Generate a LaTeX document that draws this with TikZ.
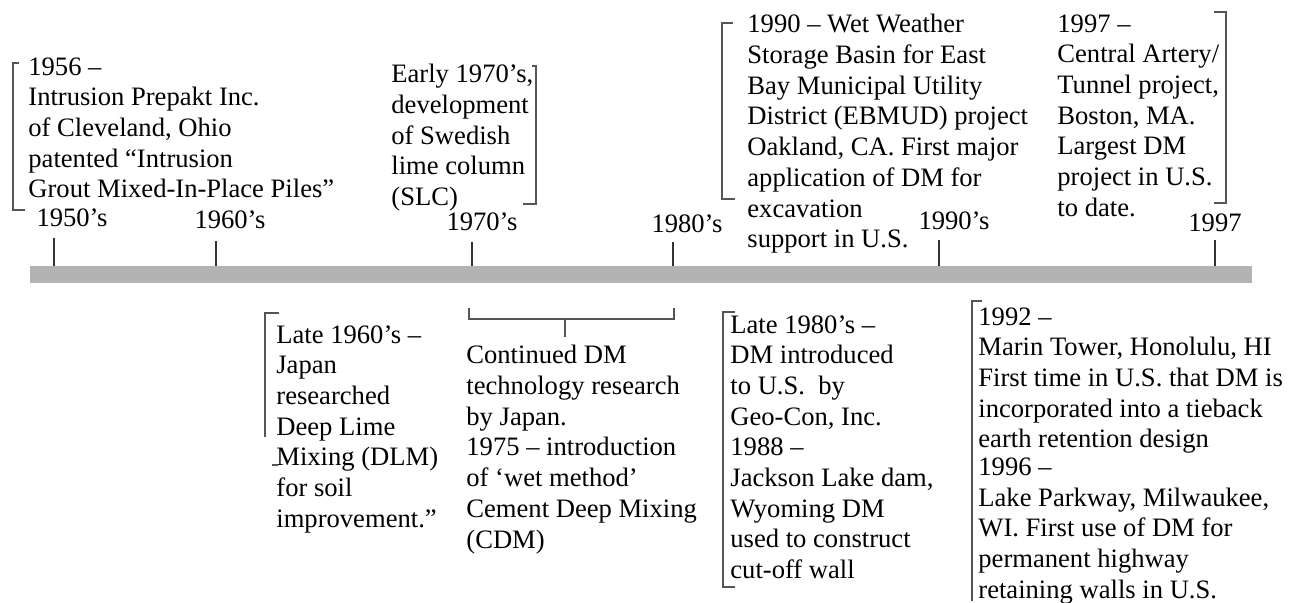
\documentclass[tikz,border=0pt]{standalone}
\usepackage{fontspec}
\setmainfont{Liberation Serif}
\frenchspacing
\definecolor{bar-gray}{HTML}{B3B3B3}
\definecolor{bracket-gray}{HTML}{555555}
\definecolor{tick-gray}{HTML}{333333}

\begin{document}
\begin{tikzpicture}[x=0.5pt,y=-0.5pt,
    every node/.style={inner sep=0pt,font=\fontsize{13.3}{15.35}\selectfont},
    entry/.style={anchor=north west,align=left},
    decade/.style={anchor=base},
    bracket/.style={draw=bracket-gray,line width=1pt},
    tickmark/.style={draw=tick-gray,line width=0.75pt}]
  \useasboundingbox (0,0) rectangle (1297,603);
  % time axis
  \fill[bar-gray] (30,266) rectangle (1252,283);
  \draw[tickmark] (54,238) -- (54,266);
  \draw[tickmark] (216,241) -- (216,266);
  \draw[tickmark] (472,242) -- (472,266);
  \draw[tickmark] (673,242) -- (673,266);
  \draw[tickmark] (939,240) -- (939,266);
  \draw[tickmark] (1215,240) -- (1215,266);
  \node[decade] (d1950) at (72,227) {1950’s};
  \node[decade] (d1960) at (230,229) {1960’s};
  \node[decade] (d1970) at (482,231) {1970’s};
  \node[decade] (d1980) at (687,233) {1980’s};
  \node[decade] (d1990) at (954,230) {1990’s};
  \node[decade] (d1997) at (1215,232) {1997};

  % above the axis
  \node[entry] (ev1956) at (28,57) {1956 –\\Intrusion Prepakt Inc.\\of Cleveland, Ohio\\patented “Intrusion\\Grout Mixed-In-Place Piles”};
  \draw[bracket] (19,63) -- (13,63) -- (13,210) -- (25,210);

  \node[entry] (ev1970) at (391,64) {Early 1970’s,\\development\\of Swedish\\lime column\\(SLC)};
  \draw[bracket] (532,66) -- (536,66) -- (536,204) -- (523,204);

  \node[entry] (ev1990) at (747,14) {1990 – Wet Weather\\Storage Basin for East\\Bay Municipal Utility\\District (EBMUD) project\\Oakland, CA. First major\\application of DM for\\excavation\\support in U.S.};
  \draw[bracket] (733,23) -- (722,23) -- (722,199) -- (735,199);

  \node[entry] (ev1997) at (1057,14) {1997 –\\Central Artery/\\Tunnel project,\\Boston, MA.\\Largest DM\\project in U.S.\\to date.};
  \draw[bracket] (1214,12) -- (1226,12) -- (1226,203) -- (1214,203);

  % below the axis
  \node[entry] (ev1960) at (276,325) {Late 1960’s –\\Japan\\researched\\Deep Lime\\Mixing (DLM)\\for soil\\improvement.”};
  \draw[bracket] (279,313) -- (265,313) -- (265,437);
  \draw[bracket] (272,465) -- (278,465);

  \node[entry] (ev1975) at (466,345) {Continued DM\\technology research\\by Japan.\\1975 – introduction\\of ‘wet method’\\Cement Deep Mixing\\(CDM)};
  \draw[bracket] (469,308) -- (469,319) -- (674,319) -- (674,308);
  \draw[bracket] (565,319) -- (565,337);

  \node[entry] (ev1980) at (730,315) {Late 1980’s –\\DM introduced\\to U.S.\ \ by\\Geo-Con, Inc.\\1988 –\\Jackson Lake dam,\\Wyoming DM\\used to construct\\cut-off wall};
  \draw[bracket] (735,312) -- (723,312) -- (723,587) -- (735,587);

  \node[entry] (ev1992) at (978,307) {1992 –\\Marin Tower, Honolulu, HI\\First time in U.S. that DM is\\incorporated into a tieback\\earth retention design\\[-1.5pt]1996 –\\Lake Parkway, Milwaukee,\\WI. First use of DM for\\permanent highway\\retaining walls in U.S.};
  \draw[bracket] (982,301) -- (972,301) -- (972,601);
\end{tikzpicture}
\end{document}
